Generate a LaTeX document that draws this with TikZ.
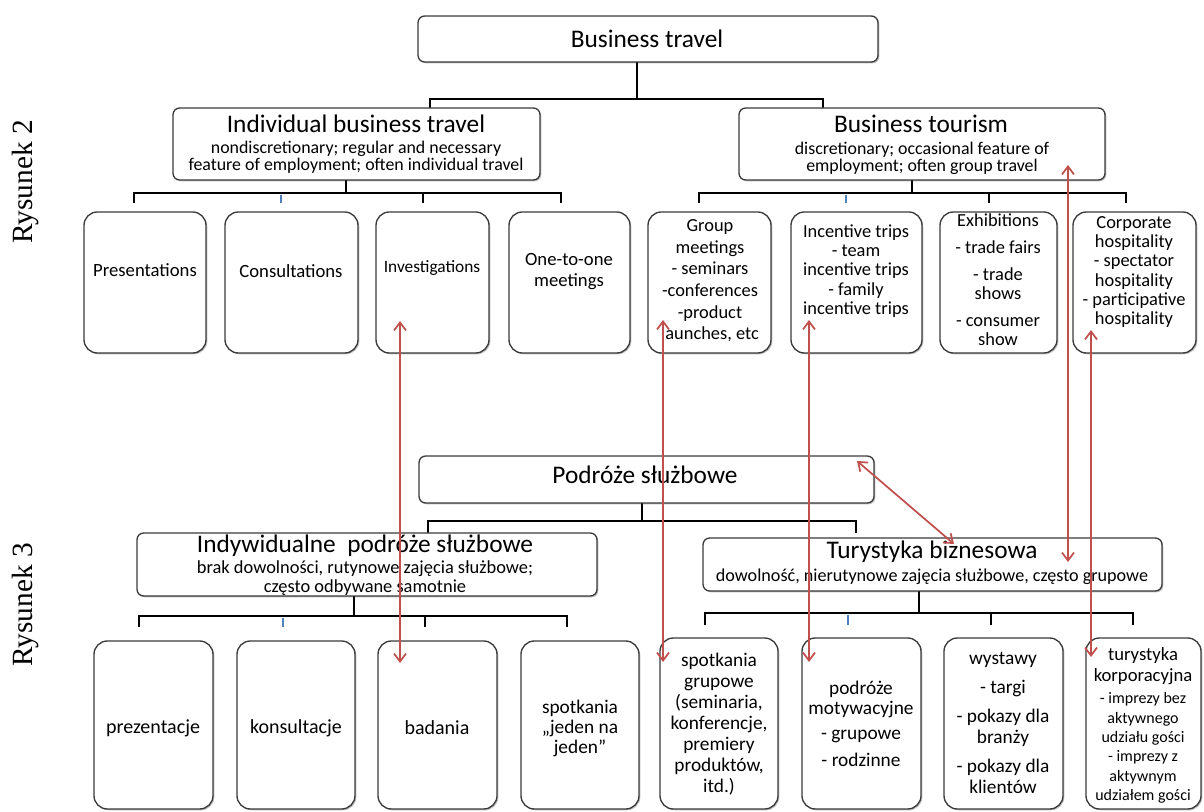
\documentclass[tikz,border=0pt]{standalone}
\usepackage{fontspec}
\setmainfont{Carlito}
\newfontfamily\timesf{Liberation Serif}
\usetikzlibrary{arrows.meta,fit,shadows}
\definecolor{redarr}{HTML}{C0504D}
\definecolor{bluetick}{HTML}{4F81BD}
\definecolor{boxline}{HTML}{3A3A3A}
\newcommand{\fsz}[2]{\fontsize{#1}{#2}\selectfont}
\begin{document}
\begin{tikzpicture}[x=0.75pt,y=-0.75pt,
  mainbox/.style={draw=boxline, line width=1pt, rounded corners=5pt, fill=white, inner sep=0pt,
    drop shadow={shadow xshift=1pt,shadow yshift=-1pt,opacity=0.25,fill=black}},
  leafbox/.style={mainbox, rounded corners=10pt},
  conn/.style={line width=2.2pt, black},
  btick/.style={line width=1.4pt, bluetick},
  rarr/.style={draw=redarr, line width=1.3pt, {Straight Barb[length=6pt,width=9pt]}-{Straight Barb[length=6pt,width=9pt]}},
  txt/.style={align=center, inner sep=0pt, text=black},
  ttl/.style={txt, font=\fsz{19}{22}},
  sub/.style={txt, font=\fsz{13.4}{12.9}},
  leaf/.style={txt, font=\fsz{14}{15.5}},
  leafb/.style={txt, font=\fsz{15}{16}},
  rys/.style={txt, rotate=90, font=\timesf\fsz{22}{24}}
]
\useasboundingbox (0,0) rectangle (1204,812);

% ---------- labels ----------
\node[rys] (r2) at (25,182) {Rysunek 2};
\node[rys] (r3) at (25,605) {Rysunek 3};

% connectors (top)
\coordinate (j0) at (637,99);
\coordinate (t0a) at (430,99);
\coordinate (t0b) at (823,99);
\draw[conn] (637,62) -- (j0);
\draw[conn] (t0a) ++(0,9) -- (t0a) -- (t0b) -- ++(0,9);

\coordinate (j1) at (346,193);
\draw[conn] (346,180) -- (j1);
\draw[conn] (134,203) -- (134,193) -- (561,193) -- (561,203);
\draw[conn] (423,193) -- (423,203);
\draw[btick] (281,195) -- (281,203);

\coordinate (j2) at (912,193);
\draw[conn] (912,180) -- (j2);
\draw[conn] (699,203) -- (699,193) -- (1126,193) -- (1126,203);
\draw[conn] (989,193) -- (989,203);
\draw[btick] (846,195) -- (846,203);

% top boxes
\node[mainbox, fit={(418,16)(878,62)}] (bt) {};
\node[ttl] (btT) at (647,39) {Business travel};

\node[mainbox, fit={(173,108)(540,180)}] (ibt) {};
\node[ttl] (ibtT) at (356,124) {Individual business travel};
\node[sub] (ibtS) at (356,157) {nondiscretionary; regular and necessary\\feature of employment; often individual travel};

\node[mainbox, fit={(739,108)(1105,180)}] (btour) {};
\node[ttl] (btourT) at (921,124) {Business tourism};
\node[sub] (btourS) at (922,158) {discretionary; occasional feature of\\employment; often group travel};

% top leaves
\node[leafbox, fit={(84,212)(206,353)}] (pres) {};
\node[leaf] (presT) at (145,270) {Presentations};
\node[leafbox, fit={(225,212)(358,353)}] (cons) {};
\node[leaf] (consT) at (291,271) {Consultations};
\node[leafbox, fit={(376,212)(489,353)}] (inv) {};
\node[txt, font=\fsz{13}{15}] (invT) at (432,268) {Investigations};
\node[leafbox, fit={(509,212)(630,353)}] (one) {};
\node[txt, font=\fsz{14}{15.75}] (oneT) at (569,272) {One-to-one\\meetings};

\node[leafbox, fit={(648,212)(771,353)}] (grp) {};
\node[txt, font=\fsz{13.8}{16.2}] (grpT) at (710,281) {Group\\meetings\\- seminars\\-conferences\\-product\\launches, etc};
\node[leafbox, fit={(791,212)(922,353)}] (inc) {};
\node[txt, font=\fsz{13.8}{14.5}] (incT) at (856,271) {Incentive trips\\- team\\incentive trips\\- family\\incentive trips};
\node[leafbox, fit={(940,212)(1057,353)}] (exh) {};
\node[txt, font=\fsz{13.8}{14.3}] (exhT) at (998,280) {Exhibitions\\[6pt]- trade fairs\\[6pt]- trade\\shows\\[6pt]- consumer\\show};
\node[leafbox, fit={(1073,212)(1196,353)}] (corp) {};
\node[txt, font=\fsz{13.8}{14.4}] (corpT) at (1134,272) {Corporate\\hospitality\\- spectator\\hospitality\\- participative\\hospitality};

% connectors (bottom)
\coordinate (j3) at (642,521);
\draw[conn] (642,503) -- (j3);
\draw[conn] (428,533) -- (428,521) -- (856,521) -- (856,533);

\coordinate (j4) at (354,616);
\draw[conn] (354,596) -- (j4);
\draw[conn] (139,627) -- (139,616) -- (567,616) -- (567,627);
\draw[conn] (425,616) -- (425,627);
\draw[btick] (283,618) -- (283,627);

\coordinate (j5) at (919,613);
\draw[conn] (919,591) -- (j5);
\draw[conn] (705,625) -- (705,613) -- (1133,613) -- (1133,625);
\draw[conn] (991,613) -- (991,625);
\draw[btick] (848,615) -- (848,625);

% bottom boxes
\node[mainbox, fit={(419,456)(874,503)}] (ps) {};
\node[ttl] (psT) at (645,475) {Podróże służbowe};

\node[mainbox, fit={(137,533)(597,596)}] (ips) {};
\node[ttl] (ipsT) at (365,546) {Indywidualne~ podróże służbowe};
\node[txt, font=\fsz{13.8}{14.25}] (ipsS) at (365,578) {brak dowolności, rutynowe zajęcia służbowe;\\często odbywane samotnie};

\node[mainbox, fit={(703,538)(1162,591)}] (tb) {};
\node[ttl] (tbT) at (932,552) {Turystyka biznesowa};
\node[txt, font=\fsz{13.6}{14}] (tbS) at (932,577) {dowolność, nierutynowe zajęcia służbowe, często grupowe};

% bottom leaves
\node[leafbox, fit={(94,641)(213,809)}] (prez) {};
\node[leafb] (prezT) at (153,728) {prezentacje};
\node[leafbox, fit={(237,641)(355,809)}] (kons) {};
\node[leafb] (konsT) at (296,728) {konsultacje};
\node[leafbox, fit={(378,641)(497,809)}] (bad) {};
\node[leafb] (badT) at (437,728) {badania};
\node[leafbox, fit={(521,641)(639,809)}] (spj) {};
\node[txt, font=\fsz{14.5}{15}] (spjT) at (580,728) {spotkania\\„jeden na\\jeden”};

\node[leafbox, fit={(660,638)(778,809)}] (spg) {};
\node[txt, font=\fsz{14.5}{15.75}] (spgT) at (719,724) {spotkania\\grupowe\\(seminaria,\\konferencje,\\premiery\\produktów,\\itd.)};
\node[leafbox, fit={(802,638)(921,809)}] (pm) {};
\node[txt, font=\fsz{14.5}{15}] (pmT) at (861,724) {podróże\\motywacyjne\\[4pt]- grupowe\\[5pt]- rodzinne};
\node[leafbox, fit={(944,638)(1063,809)}] (wys) {};
\node[txt, font=\fsz{14.5}{15.75}] (wysT) at (1003,723) {wystawy\\[6pt]- targi\\[6pt]- pokazy dla\\branży\\[6pt]- pokazy dla\\klientów};
\node[leafbox, fit={(1086,638)(1201,809)}] (tk) {};
\node[txt, font=\fsz{14}{16}] (tkT) at (1143,666) {turystyka\\korporacyjna};
\node[txt, font=\fsz{12}{14.5}] (tkS) at (1143,748) {- imprezy bez\\aktywnego\\udziału gości\\- imprezy z\\aktywnym\\udziałem gości};

% red arrows
\coordinate (a1t) at (400,321); \coordinate (a1b) at (400,663);
\coordinate (a2t) at (663,320); \coordinate (a2b) at (663,662);
\coordinate (a3t) at (809,320); \coordinate (a3b) at (809,662);
\coordinate (a4t) at (1068,165); \coordinate (a4b) at (1068,562);
\coordinate (a5t) at (1091,330); \coordinate (a5b) at (1091,657);
\coordinate (a6t) at (857,461); \coordinate (a6b) at (954,544);
\draw[rarr] (a1t) -- (a1b);
\draw[rarr] (a2t) -- (a2b);
\draw[rarr] (a3t) -- (a3b);
\draw[rarr] (a4t) -- (a4b);
\draw[rarr] (a5t) -- (a5b);
\draw[rarr] (a6t) -- (a6b);
\end{tikzpicture}
\end{document}
